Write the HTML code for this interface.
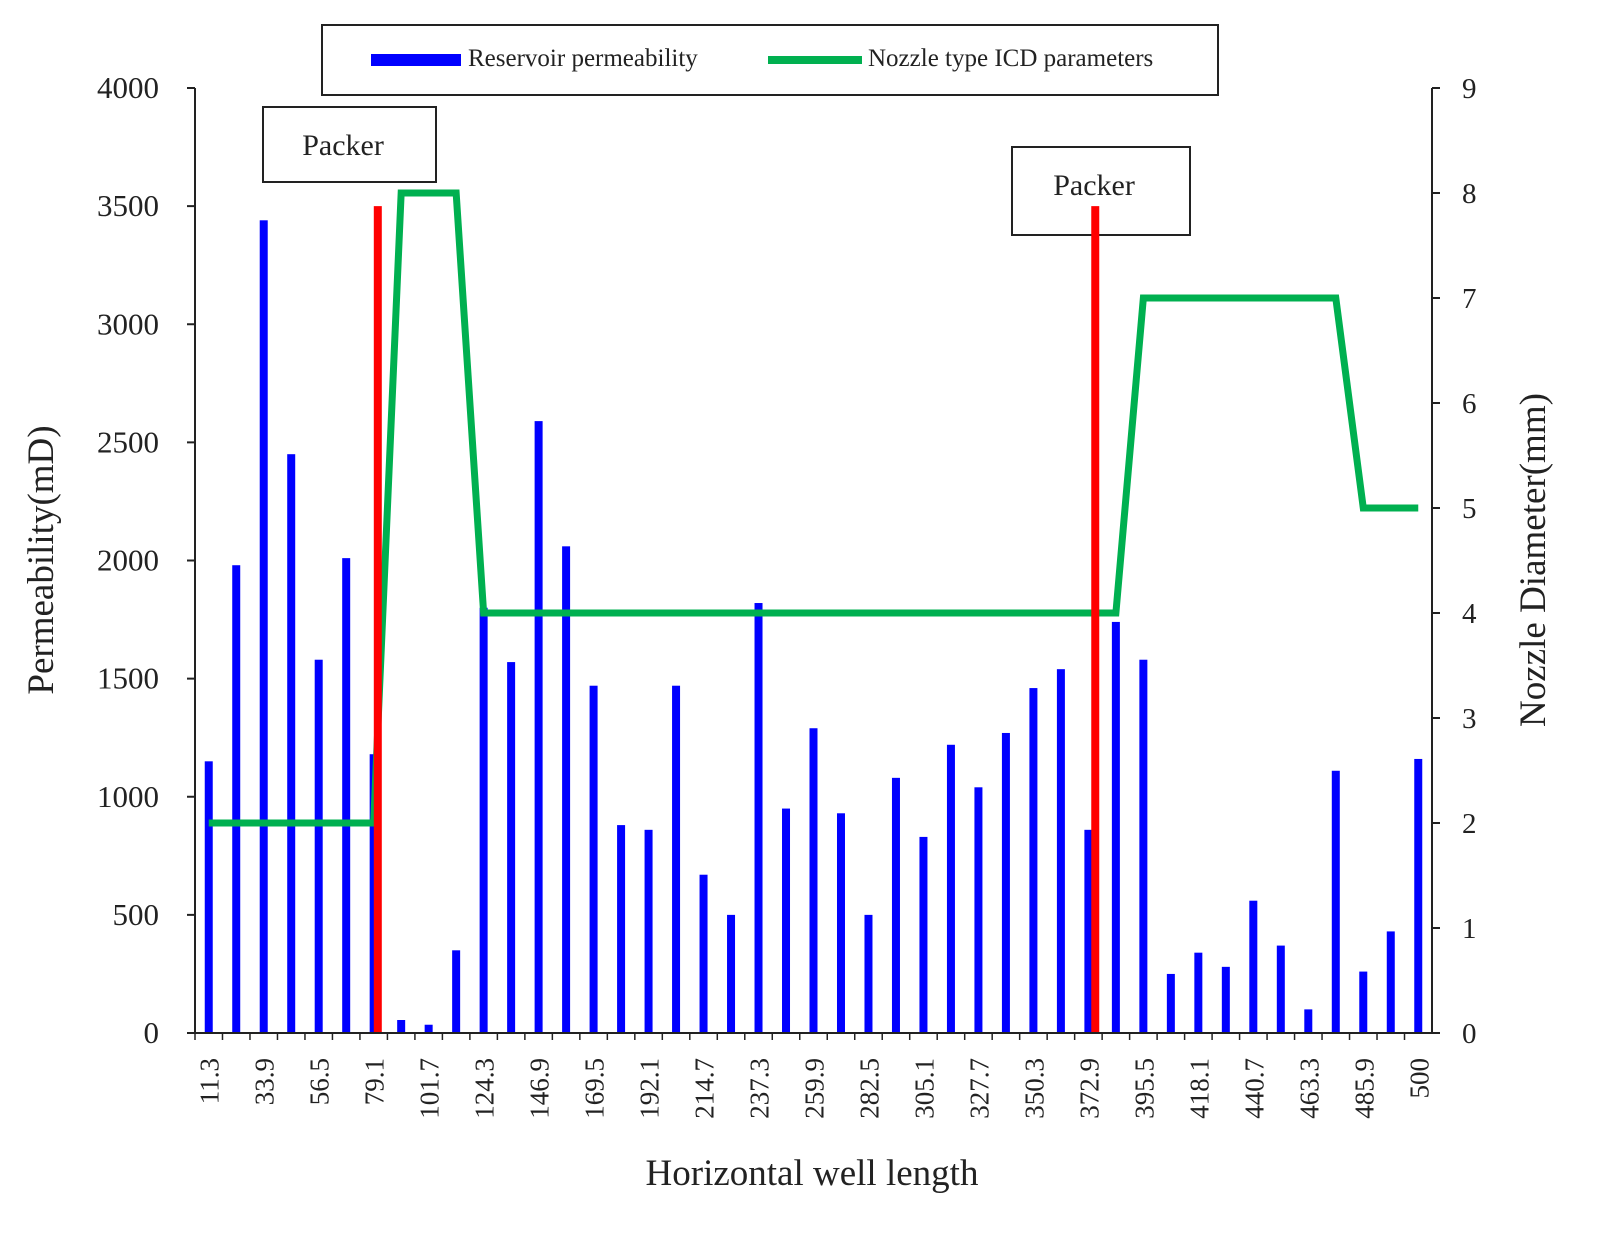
<!DOCTYPE html>
<html><head><meta charset="utf-8"><style>
html,body{margin:0;padding:0;background:#fff;overflow:hidden;width:1604px;height:1243px}
svg{display:block;position:absolute;left:0;top:0}
svg text{font-family:"Liberation Serif",serif;fill:#222}
</style></head><body>
<svg id="chart" width="1604" height="1243" xmlns="http://www.w3.org/2000/svg">
<text x="812" y="1185" text-anchor="middle" font-size="37">Horizontal well length</text>
<text x="0" y="0" text-anchor="middle" font-size="37" transform="translate(53 560) rotate(-90)">Permeability(mD)</text>
<text x="0" y="0" text-anchor="middle" font-size="37" transform="translate(1545 560) rotate(-90)">Nozzle Diameter(mm)</text>
<g>
<rect x="322" y="25" width="896" height="70" fill="#fff" stroke="#222" stroke-width="2"/>
<rect x="371" y="54" width="90" height="12" fill="#0000ff"/>
<text x="468" y="66" font-size="25">Reservoir permeability</text>
<line x1="768" x2="862" y1="60" y2="60" stroke="#00b050" stroke-width="8"/>
<text x="868" y="66" font-size="25">Nozzle type ICD parameters</text>
</g>
<g>
<rect x="263" y="107" width="173" height="75" fill="#fff" stroke="#222" stroke-width="2"/>
<text x="343" y="155" text-anchor="middle" font-size="30">Packer</text>
</g>
<g>
<rect x="1012" y="147" width="178" height="88" fill="#fff" stroke="#222" stroke-width="2"/>
<text x="1094" y="195" text-anchor="middle" font-size="30">Packer</text>
</g>
</svg>
<script>
const categories=[11.3,22.6,33.9,45.2,56.5,67.8,79.1,90.4,101.7,113,124.3,135.6,146.9,158.2,169.5,180.8,192.1,203.4,214.7,226,237.3,248.6,259.9,271.2,282.5,293.8,305.1,316.4,327.7,339,350.3,361.6,372.9,384.2,395.5,406.8,418.1,429.4,440.7,452,463.3,474.6,485.9,497.2,500];
const permeability=[1150,1980,3440,2450,1580,2010,1180,55,35,350,1800,1570,2590,2060,1470,880,860,1470,670,500,1820,950,1290,930,500,1080,830,1220,1040,1270,1460,1540,860,1740,1580,250,340,280,560,370,100,1110,260,430,1160];
const nozzle=[2,2,2,2,2,2,2,8,8,8,4,4,4,4,4,4,4,4,4,4,4,4,4,4,4,4,4,4,4,4,4,4,4,4,7,7,7,7,7,7,7,7,5,5,5];
const leftTicks=[0,500,1000,1500,2000,2500,3000,3500,4000];
const rightTicks=[0,1,2,3,4,5,6,7,8,9];
const packerIdx=[6.15,32.25];
const packerTop=[3500,3500];

const svg=document.getElementById('chart');
const NS='http://www.w3.org/2000/svg';
const L=195,R=1432,T=88,B=1033;
const bw=(R-L)/categories.length;
const xs=i=>L+bw*(i+0.5);
const yl=v=>B-(v/4000)*(B-T);
const yr=v=>B-(v/9)*(B-T);
function mk(tag,attrs,txt){const e=document.createElementNS(NS,tag);for(const k in attrs)e.setAttribute(k,attrs[k]);if(txt!==undefined)e.textContent=txt;svg.appendChild(e);return e;}

permeability.forEach((v,i)=>{
 const r=mk('rect',{x:xs(i)-4,y:yl(v),width:8,height:B-yl(v),fill:'#0000ff'});
 
 
});
const pts=nozzle.map((v,i)=>xs(i)+','+yr(v)).join(' ');
const pl=mk('polyline',{points:pts,fill:'none',stroke:'#00b050','stroke-width':7,'stroke-linejoin':'miter'});


packerIdx.forEach((p,i)=>{
 const l=mk('line',{x1:xs(p),x2:xs(p),y1:yl(packerTop[i]),y2:B,stroke:'#ff0000','stroke-width':8});
 
 
});

const ax=mk('path',{d:`M${L},${T}V${B}H${R}M${R},${T}V${B}`,stroke:'#222','stroke-width':2,fill:'none'});


leftTicks.forEach(v=>{
 mk('line',{x1:L-8,x2:L,y1:yl(v),y2:yl(v),stroke:'#222','stroke-width':2});
 const t=mk('text',{x:L-36,y:yl(v)+10,'text-anchor':'end','font-size':31},v);
 
 
});
rightTicks.forEach(v=>{
 mk('line',{x1:R,x2:R+8,y1:yr(v),y2:yr(v),stroke:'#222','stroke-width':2});
 const t=mk('text',{x:R+30,y:yr(v)+10,'font-size':29},v);
 
 
});
categories.forEach((c,i)=>{
 mk('line',{x1:xs(i)-bw/2,x2:xs(i)-bw/2,y1:B,y2:B+7,stroke:'#222','stroke-width':1.5});
 if(i%2===0){
  const x=xs(i)+10,y=B+25;
  const t=mk('text',{x:x,y:y,'text-anchor':'end','font-size':27,transform:`rotate(-90 ${x} ${y})`},c);
  
  
 }
});
</script>
</body></html>
